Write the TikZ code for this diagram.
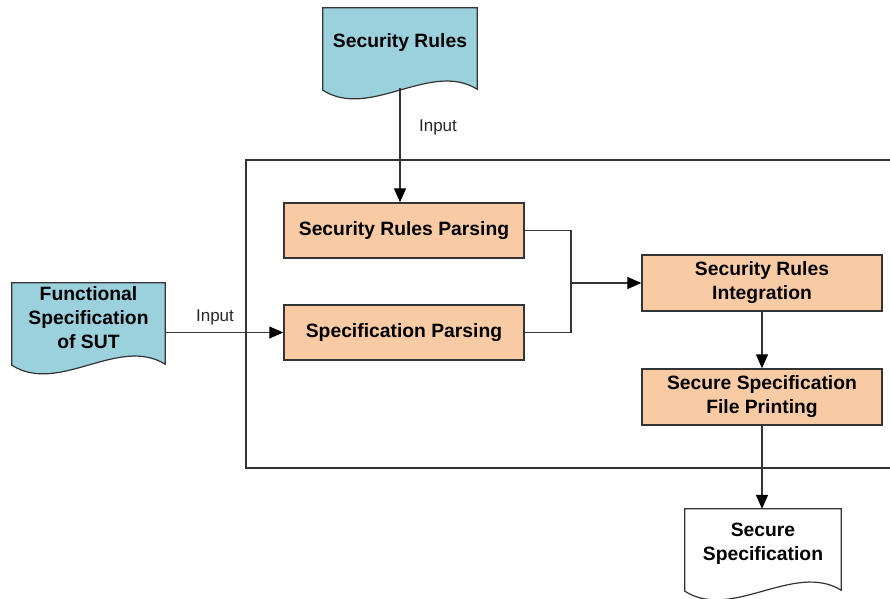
\documentclass[tikz,border=0pt]{standalone}
\usepackage{fontspec}
\setmainfont{Liberation Sans}
\usetikzlibrary{arrows.meta,calc}

\definecolor{docblue}{HTML}{9BD0DD}
\definecolor{procpeach}{HTML}{F9CBA5}
\definecolor{edgegray}{HTML}{333333}

\tikzset{
  every node/.style={inner sep=0pt},
  boxfont/.style={font=\bfseries\fontsize{19.3}{24}\selectfont, text=black, align=center},
  procbox/.style={boxfont, draw=edgegray, line width=1.4pt, fill=procpeach,
                  minimum width=240pt, minimum height=55pt},
  docnode/.style={boxfont, minimum height=70pt},
  docline/.style={draw=edgegray, line width=1.2pt},
  conn/.style={draw=edgegray, line width=1.2pt},
  arr/.style={conn, -{Triangle[length=14pt,width=12pt,color=black]}},
  lbl/.style={font=\fontsize{17}{20}\selectfont, text=black!85}
}

% document outline: flat top, wavy bottom about 12pt below the text node
\newcommand\docoutline[2]{%
  \path[docline, fill=#2] (#1.north west) -- (#1.north east)
    -- ($(#1.south east)+(0,11)$)
    .. controls +(-47,-29) and +(47,30) .. ($(#1.south west)+(0,12)$) -- cycle;
}

\begin{document}
\begin{tikzpicture}[x=1pt, y=-1pt]
\useasboundingbox (0,0) rectangle (890,598);
\clip (0,0) rectangle (890,598);

% enclosing frame of the processing stage
\draw[draw=edgegray, line width=1.2pt] (246,160) rectangle (905,468);

% processing steps
\node[procbox] (srp) at (404,230.5) {Security Rules Parsing};
\node[procbox] (sp) at (404,332.5) {Specification Parsing};
\node[procbox, minimum height=56pt] (sri) at (762,283) {Security Rules\\Integration};
\node[procbox, minimum height=56pt] (ssfp) at (762,397) {Secure Specification\\File Printing};

% documents
\node[docnode, minimum width=154pt] (sr) at (400,43) {};
\docoutline{sr}{docblue}
\node[boxfont] at (sr) {Security Rules};

\node[docnode, minimum width=153pt] (fs) at (88.5,318) {};
\docoutline{fs}{docblue}
\node[boxfont] at (fs) {Functional\\Specification\\of SUT};

\node[docnode, minimum width=156pt] (ss) at (763,544) {};
\docoutline{ss}{white}
\node[boxfont] at (ss) {Secure\\Specification};

% connectors
\coordinate (srout) at ($(sr.south)+(0,10)$);
\draw[arr] (srout) -- (srout |- srp.north);
\node[lbl] (in1) at (438,127) {Input};

\draw[arr] (fs.east |- sp.west) -- (sp.west);
\node[lbl] (in2) at (215,317) {Input};

\coordinate (join) at (571,283);
\draw[conn] (srp.east) -- (srp.east -| join) -- (sp.east -| join) -- (sp.east);
\draw[arr] (join) -- (sri.west);

\draw[arr] (sri.south) -- (ssfp.north);
\draw[arr] (ssfp.south) -- (ssfp.south |- ss.north);
\end{tikzpicture}
\end{document}
